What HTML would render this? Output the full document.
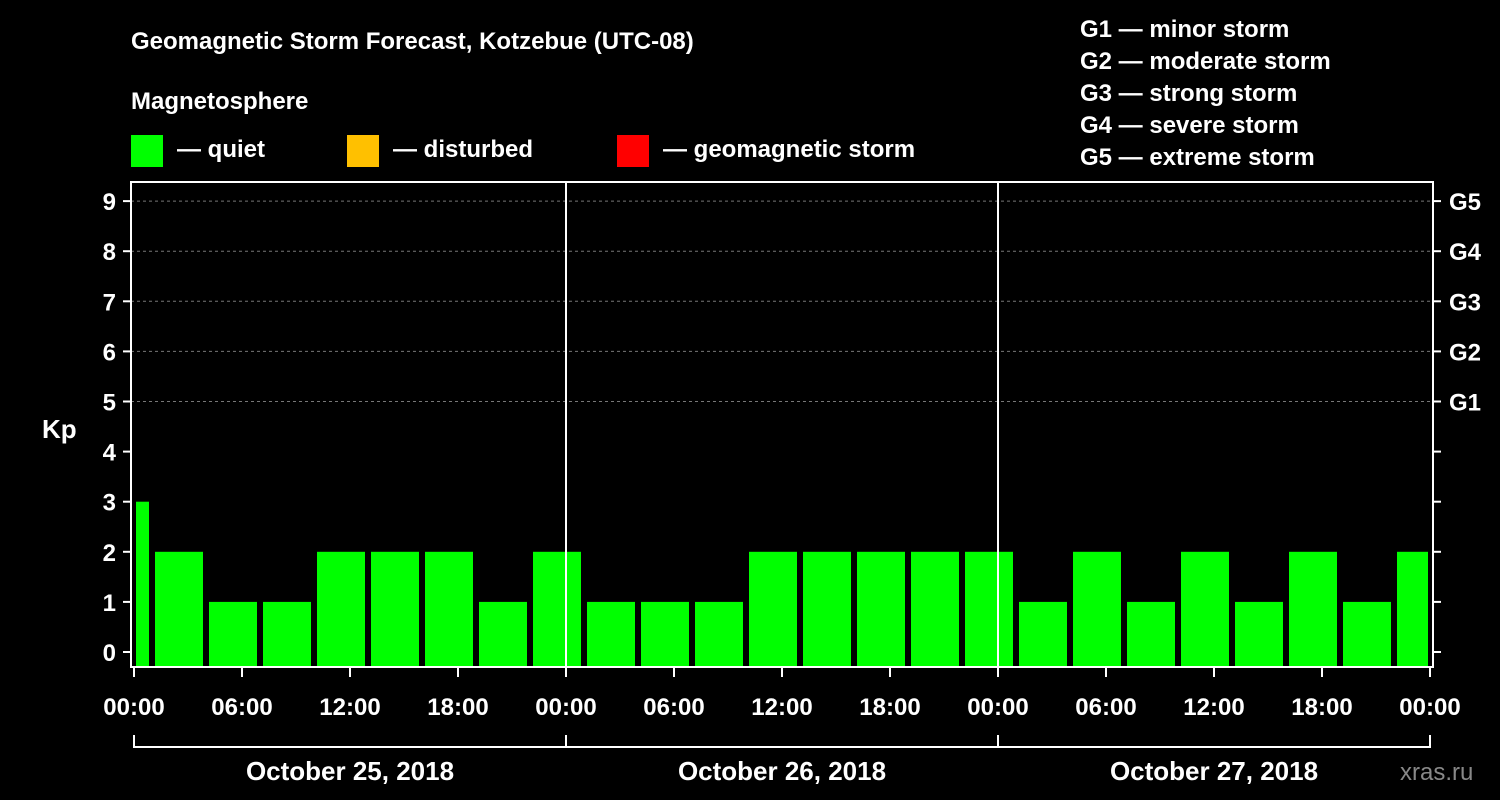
<!DOCTYPE html>
<html><head><meta charset="utf-8"><style>
body{margin:0;background:#000;}
svg{display:block;font-family:"Liberation Sans",sans-serif;font-weight:bold;}
</style></head><body>
<svg id="c" width="1500" height="800" viewBox="0 0 1500 800">
<rect width="1500" height="800" fill="#000"/>
<text x="131" y="49" fill="#fff" font-size="24">Geomagnetic Storm Forecast, Kotzebue (UTC-08)</text>
<text x="131" y="109" fill="#fff" font-size="24">Magnetosphere</text>
<g><rect x="131" y="135" width="32" height="32" fill="#00ff00"/><text x="177" y="157" fill="#fff" font-size="24">— quiet</text></g>
<g><rect x="347" y="135" width="32" height="32" fill="#ffc000"/><text x="393" y="157" fill="#fff" font-size="24">— disturbed</text></g>
<g><rect x="617" y="135" width="32" height="32" fill="#ff0000"/><text x="663" y="157" fill="#fff" font-size="24">— geomagnetic storm</text></g>
<g fill="#fff" font-size="24">
<text x="1080" y="37">G1 — minor storm</text><text x="1080" y="69">G2 — moderate storm</text><text x="1080" y="101">G3 — strong storm</text><text x="1080" y="133">G4 — severe storm</text><text x="1080" y="165">G5 — extreme storm</text></g>
<text x="42" y="438" fill="#fff" font-size="26">Kp</text>
<text x="1400" y="780" fill="#888" font-size="24" font-weight="normal">xras.ru</text>
<g id="g"></g>
</svg>
<script>
const kpValues=[3,2,1,1,2,2,2,1,2,1,1,1,2,2,2,2,2,1,2,1,2,1,2,1,2];
const yTicks=[0,1,2,3,4,5,6,7,8,9];
const gLabels=["G1","G2","G3","G4","G5"];
const timeLabels=["00:00","06:00","12:00","18:00","00:00","06:00","12:00","18:00","00:00","06:00","12:00","18:00","00:00"];
const dateLabels=["October 25, 2018","October 26, 2018","October 27, 2018"];
const NS="http://www.w3.org/2000/svg";
const g=document.getElementById('g');
const X0=134,PXH=1296/72;
const xs=h=>X0+h*PXH;
const ys=v=>652-v*50.1;
function mk(t,a,p){const e=document.createElementNS(NS,t);for(const k in a)e.setAttribute(k,a[k]);(p||g).appendChild(e);return e;}
// grid
for(let v=5;v<=9;v++){const l=mk('line',{x1:131,x2:1433,y1:ys(v),y2:ys(v),stroke:'#777','stroke-dasharray':'3,3'});

}
// bars
kpValues.forEach((v,i)=>{let h0,h1;if(i===0){h0=0;h1=1;}else{h0=1+(i-1)*3;h1=Math.min(h0+3,72);}
let x0=xs(h0)+(i===0?2:3),x1=xs(h1)-(h1===72?2:3);
const r=mk('rect',{x:x0,y:ys(v),width:x1-x0,height:667-ys(v),fill:v>=5?'#ff0000':(v>=4?'#ffc000':'#00ff00')});

});
// frame
const f=mk('rect',{x:131,y:182,width:1302,height:485,fill:'none',stroke:'#fff','stroke-width':2});


[24,48].forEach(h=>{const l=mk('line',{x1:xs(h),x2:xs(h),y1:182,y2:667,stroke:'#fff','stroke-width':2});

});
// y ticks
yTicks.forEach(v=>{mk('line',{x1:123,x2:131,y1:ys(v),y2:ys(v),stroke:'#fff','stroke-width':2});mk('line',{x1:1433,x2:1441,y1:ys(v),y2:ys(v),stroke:'#fff','stroke-width':2});
const t=mk('text',{x:116,y:ys(v)+9,fill:'#fff','font-size':24,'text-anchor':'end'});t.textContent=v;

});
gLabels.forEach((s,i)=>{const t=mk('text',{x:1449,y:ys(5+i)+9,fill:'#fff','font-size':24});t.textContent=s;

});
// x ticks
timeLabels.forEach((s,i)=>{const x=xs(i*6);mk('line',{x1:x,x2:x,y1:667,y2:677,stroke:'#fff','stroke-width':2});
const t=mk('text',{x:x,y:715,fill:'#fff','font-size':24,'text-anchor':'middle'});t.textContent=s;

});
mk('line',{x1:xs(0),x2:xs(72),y1:747,y2:747,stroke:'#fff','stroke-width':2});
[0,24,48,72].forEach(h=>mk('line',{x1:xs(h),x2:xs(h),y1:735,y2:748,stroke:'#fff','stroke-width':2}));
dateLabels.forEach((s,i)=>{const t=mk('text',{x:xs(i*24+12),y:780,fill:'#fff','font-size':26,'text-anchor':'middle'});t.textContent=s;

});
</script>
</body></html>
